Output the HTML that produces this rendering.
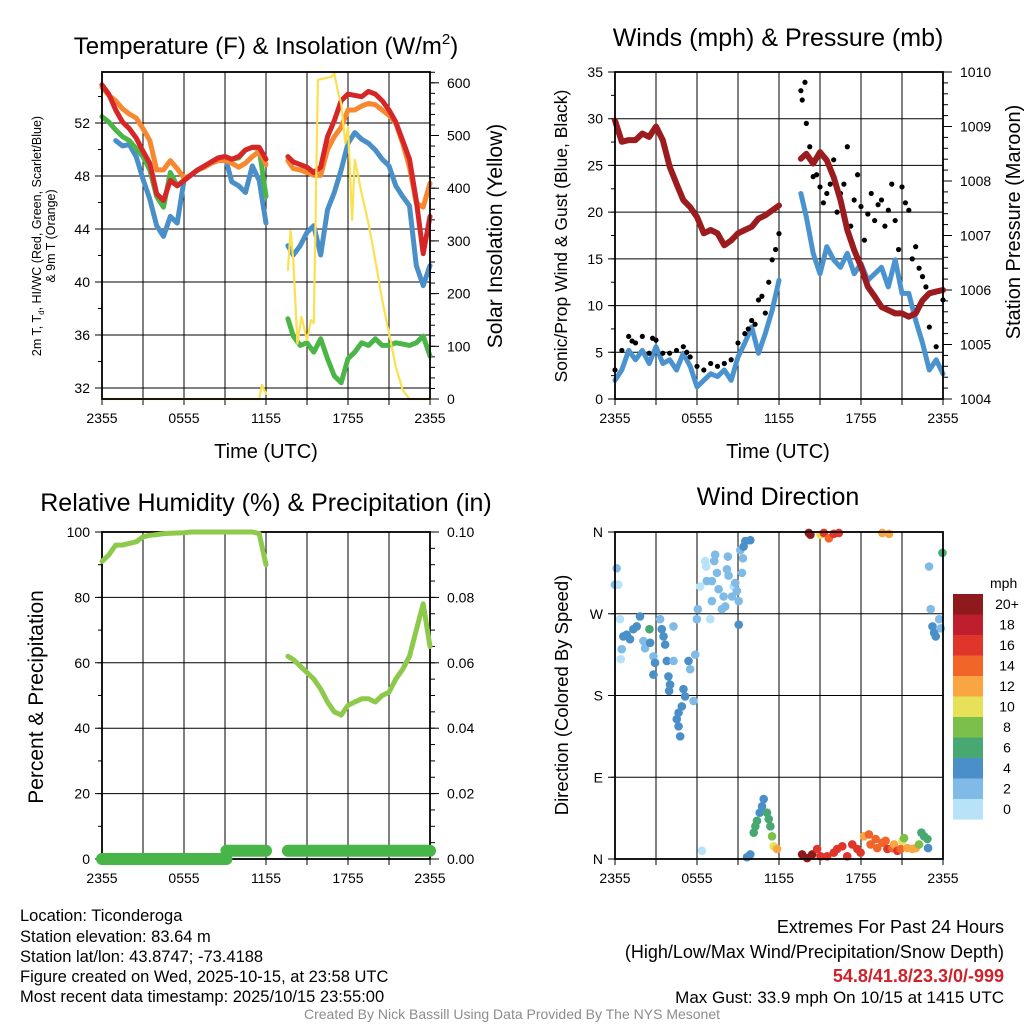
<!DOCTYPE html>
<html><head><meta charset="utf-8">
<style>
html,body{margin:0;padding:0;background:#fff;}
svg{display:block;font-family:"Liberation Sans",Arial,sans-serif;}
</style></head>
<body>
<svg id="fig" width="1024" height="1024" viewBox="0 0 1024 1024">
<rect x="0" y="0" width="1024" height="1024" fill="#fff"/>
<g id="p1"></g>
<g id="p2"></g>
<g id="p3"></g>
<g id="p4"></g>

<text x="266" y="54" font-size="24" text-anchor="middle">Temperature (F) &amp; Insolation (W/m<tspan font-size="15" dy="-10">2</tspan><tspan dy="10">)</tspan></text>
<text x="778" y="46" font-size="25" text-anchor="middle">Winds (mph) &amp; Pressure (mb)</text>
<text x="266" y="511" font-size="25" text-anchor="middle">Relative Humidity (%) &amp; Precipitation (in)</text>
<text x="778" y="505" font-size="25" text-anchor="middle">Wind Direction</text>

<text x="266" y="458" font-size="20" text-anchor="middle">Time (UTC)</text>
<text x="778" y="458" font-size="20" text-anchor="middle">Time (UTC)</text>

<g transform="translate(41,236) rotate(-90)">
<text x="0" y="0" font-size="12.5" text-anchor="middle">2m T, T<tspan font-size="8" dy="3">d</tspan><tspan dy="-3">, HI/WC (Red, Green, Scarlet/Blue)</tspan></text>
<text x="0" y="14" font-size="12.5" text-anchor="middle">&amp; 9m T (Orange)</text>
</g>
<text transform="translate(502,236) rotate(-90)" font-size="21" text-anchor="middle">Solar Insolation (Yellow)</text>
<text transform="translate(567,236) rotate(-90)" font-size="17.5" text-anchor="middle">Sonic/Prop Wind &amp; Gust (Blue, Black)</text>
<text transform="translate(1020,222) rotate(-90)" font-size="20" text-anchor="middle">Station Pressure (Maroon)</text>
<text transform="translate(43,697) rotate(-90)" font-size="21" text-anchor="middle">Percent &amp; Precipitation</text>
<text transform="translate(568,695) rotate(-90)" font-size="18.5" text-anchor="middle">Direction (Colored By Speed)</text>

<g font-size="16.5">
<text x="20" y="921">Location: Ticonderoga</text>
<text x="20" y="942">Station elevation: 83.64 m</text>
<text x="20" y="962">Station lat/lon: 43.8747; -73.4188</text>
<text x="20" y="982">Figure created on Wed, 2025-10-15, at 23:58 UTC</text>
<text x="20" y="1002">Most recent data timestamp: 2025/10/15 23:55:00</text>
</g>
<g font-size="18" text-anchor="end">
<text x="1004" y="933">Extremes For Past 24 Hours</text>
<text x="1004" y="958">(High/Low/Max Wind/Precipitation/Snow Depth)</text>
<text x="1004" y="982" fill="#cc2229" font-weight="bold">54.8/41.8/23.3/0/-999</text>
<text x="1004" y="1003" font-size="17">Max Gust: 33.9 mph On 10/15 at 1415 UTC</text>
</g>
<text x="512" y="1019" font-size="14" fill="#8c8c8c" text-anchor="middle">Created By Nick Bassill Using Data Provided By The NYS Mesonet</text>
</svg>
<script>
// ---------- data ----------
const hours = [0,0.5,1,1.5,2,2.5,3,3.5,4,4.5,5,5.5,6,6.5,7,7.5,8,8.5,9,9.5,10,10.5,11,11.5,12,null,13.6,14,14.5,15,15.5,16,16.5,17,17.5,18,18.5,19,19.5,20,20.5,21,21.5,22,22.5,23,23.5,24];
const tempRed = [54.8,54.1,52.9,52,51.5,50.8,49.8,48.9,46.6,46.1,47.6,47.2,47.6,48,48.4,48.7,49,49.3,49.4,49.2,49.4,49.9,50.1,50.1,49.2,null,49.4,49,48.8,48.6,48.2,48.6,50.9,52.1,53.6,54.1,54,53.9,54.3,54.1,53.6,52.9,52,50.6,49.2,46.1,42.1,44.9];
const temp9m = [54.6,54,53.6,53,52.6,52.3,51.5,50.6,48.4,48.4,49.1,48.5,47.8,48,48.4,48.6,48.9,49.1,49.1,48.9,48.6,48.9,49.4,49.8,48.8,null,49.1,48.5,48.4,48.2,48,48,49.9,50.9,51.6,52.9,52.9,53.2,53.4,53.3,52.9,52.5,51.9,50.4,48.6,45.9,45.6,47.4];
const dewGreen = [52.4,52,51.4,50.9,50.6,50,49.4,48.4,46.4,45.6,48.2,47.2,47.6,48,48.4,48.6,49,49.3,49.4,49.2,49.3,49.9,50.1,50.0,46.4,null,37.2,35.9,35.2,35.4,34.7,35.7,34.2,32.9,32.4,34.2,34.7,35.4,35.2,35.7,35.2,35.2,35.4,35.3,35.2,35.4,35.9,34.4];
const hiwcBlue = [null,null,50.6,50.2,50.3,49.4,47.7,46.2,44.2,43.4,44.9,44.4,47.6,48,48.4,48.6,49,49.3,49.4,47.5,47.2,46.7,48.7,47.6,44.4,null,42.7,42,42.7,43.7,44.2,42,45.4,46.7,48.4,50.4,51.2,50.7,50.4,49.9,49.2,48.7,47.2,46.4,45.7,41.2,39.7,41.2];
const solarHours = [0,11.5,11.7,12,null,13.6,13.8,14,14.3,14.6,15,15.3,15.5,15.8,16.3,16.8,17,17.3,17.5,17.8,18,18.3,18.5,18.8,19,19.5,20,20.5,21,21.5,22,22.5,24];
const solar = [0,0,27,10,null,245,320,264,105,156,112,150,144,606,609,612,618,580,561,485,517,340,454,416,390,333,264,188,125,61,17,0,0];
const windSpeed = [2,3.1,5.2,4.2,5.2,3.8,5.6,3.8,4.2,3.1,4.9,3.5,1.3,2,2.7,2.4,3.1,2,4.5,6,7.7,4.9,7,9.5,12.7,null,22,19.5,15.6,13.4,16.3,14.9,14.1,15.6,13.4,14.5,12.7,13.4,14.1,12,14.9,11.3,11.3,8.4,6,3.1,4.2,2.7];
const pressure = [1009.11,1008.72,1008.75,1008.75,1008.87,1008.81,1009.0,1008.75,1008.26,1007.95,1007.65,1007.52,1007.34,1007.04,1007.1,1007.04,1006.82,1006.91,1007.04,1007.1,1007.16,1007.31,1007.37,1007.46,1007.55,null,1008.41,1008.5,1008.32,1008.53,1008.38,1008.07,1007.65,1007.1,1006.73,1006.43,1006.06,1005.88,1005.69,1005.63,1005.57,1005.57,1005.51,1005.57,1005.81,1005.94,1005.97,1006.0];
const gust = [3.1,5.2,6.7,6,6.7,4.9,6.3,4.9,4.9,5.2,5.6,4.5,3.5,3.1,3.8,3.5,3.8,4.2,6,7,8.4,10.6,9.2,14.9,17.7,null,33,29.5,23.8,22.7,22,25.6,22,27,21.3,20.6,19.8,19.1,21.3,20.2,19.1,22.7,20.2,16.3,13.1,7.7,5.6,10.6];
const gustHours2 = [13.7,13.9,14.25,14.75,15.25,15.75,16.25,16.75,17.25,17.75,18.25,18.75,19.25,19.75,20.25,20.75,21.25,21.75,22.25,22.75,1.25,2.75,5.25,9.75,10.25,10.75,11.25,11.75];
const gust2 = [32,33.9,27,24,21,23,20,23,18.5,24,17,22,20.8,18.5,23,16,21,15,14,12,6.2,6.5,5,7.5,8,11,12.5,16];
const rh = [91,93,96,96,96.5,97,98.5,99,99.2,99.5,99.6,99.7,99.8,100,100,100,100,100,100,100,100,100,100,99.5,90,null,62,61,59,57,55,52,48,45,44,47,48,49,49,48,50,51,55,58,62,70,78,65];
const precipHours = [0,9.1,null,9.1,12,null,13.6,24];
const precip = [0,0,null,0.0025,0.0025,null,0.0025,0.0025];
const wdHours = [0.12,0,0.24,0.37,1.83,1.59,1.34,0.86,0.61,1.1,0.49,0.42,2.52,2.08,2.2,2.57,2.81,2.93,2.81,3.3,3.42,3.55,3.67,3.79,4.28,3.91,4.03,3.96,4.28,5.01,5.13,4.89,4.65,4.52,4.65,4.77,5.38,5.5,5.87,5.75,5.99,6.06,6.23,6.6,6.67,6.72,7.09,7.09,6.97,7.33,7.26,7.46,7.58,7.82,7.95,8.07,8.19,8.26,8.31,8.56,8.68,8.8,8.92,9.05,9.05,9.17,9.29,9.36,9.41,9.54,9.9,6.36,9.66,9.9,10.15,10.27,10.39,10.59,10.76,10.88,11.12,11.25,11.37,11.49,11.61,11.86,14.18,14.3,15.04,15.28,15.65,16.01,16.38,19.56,20.05,13.69,14.06,14.43,14.79,15.04,15.53,16.01,16.26,16.63,16.99,17.36,17.73,17.97,18.22,18.58,18.7,19.07,19.19,19.56,19.8,19.93,20.29,20.42,20.66,20.9,21.03,21.15,21.39,21.76,22.0,22.25,22.42,22.62,22.86,22.91,22.98,23.1,23.23,23.35,23.47,23.72,23.84,23.96];
const wdDir = [320,302,302,264,267,256,253,247,245,242,231,220,253,240,232,238,223,216,203,264,253,245,236,218,256,201,192,185,218,187,179,168,161,154,146,135,218,209,225,174,264,275,300,328,322,306,306,284,264,335,328,315,297,275,289,278,319,333,312,289,300,304,295,284,258,340,315,331,344,350,351,9,2,5,29,36,42,51,58,66,51,44,36,25,14,11,359,357,357,359,353,358,359,359,358,5,1,5,11,3,3,7,11,14,3,16,11,7,25,27,16,22,12,18,20,11,12,16,9,11,20,23,12,11,12,16,29,25,22,12,322,275,256,249,245,264,254,337];
const wdSpeed = [3,3,1,1,5,5,5,5,5,5,3,1,7,3,3,5,3,5,5,3,5,5,5,5,3,5,5,5,3,5,5,5,5,5,5,5,5,3,3,3,3,3,1,1,1,3,3,3,1,3,3,3,3,3,3,3,3,3,3,3,1,3,3,3,5,3,3,3,5,5,5,1,5,5,7,7,7,5,5,5,7,7,7,9,11,13,21,21,11,17,15,17,17,13,13,21,21,21,17,17,17,17,17,17,17,17,17,17,13,15,15,15,15,15,15,17,15,13,17,15,11,9,13,13,13,9,7,7,7,5,3,3,5,5,5,3,3,7];
const timeTicks = ["2355","0555","1155","1755","2355"];
const legendLabels = ["20+","18","16","14","12","10","8","6","4","2","0"];
const legendColors = ["#8f1a1d","#be1e2d","#e0352b","#f26529","#f9a541","#e6e159","#7cc04b","#48a872","#4a8fc7","#7fbbe6","#b8e2f7"];

// ---------- helpers ----------
const NS = "http://www.w3.org/2000/svg";
function mk(parent, tag, attrs){
  const e = document.createElementNS(NS, tag);
  for (const k in attrs) e.setAttribute(k, attrs[k]);
  parent.appendChild(e);
  return e;
}
const X0L = 102, X0R = 615, PW = 328;
function xScale(x0){ return t => x0 + t * PW / 24; }
function linScale(v0, v1, y0, y1){ return v => y0 + (v - v0) * (y1 - y0) / (v1 - v0); }

function drawLine(g, hs, vs, xf, yf, color, width, name){
  let d = "", pen = false;
  for (let i = 0; i < vs.length; i++){
    if (hs[i] === null || vs[i] === null){ pen = false; continue; }
    d += (pen ? "L" : "M") + xf(hs[i]).toFixed(1) + "," + yf(vs[i]).toFixed(1);
    pen = true;
  }
  const p = mk(g, "path", {d: d, fill: "none", stroke: color, "stroke-width": width, "stroke-linejoin": "round", "stroke-linecap": "round"});
  
  
  return p;
}

function frame(g, x0, y0, y1, opts){
  const x1 = x0 + PW;
  const xf = xScale(x0);
  for (let h = 3; h < 24; h += 3){
    const l = mk(g, "line", {x1: xf(h), y1: y0, x2: xf(h), y2: y1, stroke: "#000", "stroke-width": 1});
    
    
  }
  for (let h = 0; h <= 24; h += 3){
    mk(g, "line", {x1: xf(h), y1: y1, x2: xf(h), y2: y1 + 6, stroke: "#000", "stroke-width": 1});
  }
  timeTicks.forEach((lab, i) => {
    const t = mk(g, "text", {x: xf(i * 6), y: y1 + 24, "font-size": 14, "text-anchor": "middle"});
    t.textContent = lab;
    
    
  });
  const ly = linScale(opts.lmin, opts.lmax, y1, y0);
  for (let v = opts.lminor0; v <= opts.lmax + 1e-9; v += opts.lminor){
    mk(g, "line", {x1: x0 - 4, y1: ly(v), x2: x0, y2: ly(v), stroke: "#000", "stroke-width": 1});
  }
  opts.lticks.forEach((v, i) => {
    const y = ly(v);
    const gl = mk(g, "line", {x1: x0 - 7, y1: y, x2: x1, y2: y, stroke: "#000", "stroke-width": 1});
    
    
    const t = mk(g, "text", {x: x0 - 12, y: y + 5, "font-size": 14, "text-anchor": "end"});
    t.textContent = opts.llabels[i];
    
    
  });
  if (opts.rticks){
    const ry = linScale(opts.rmin, opts.rmax, y1, y0);
    for (let v = opts.rmin; v <= opts.rmax + 1e-9; v += opts.rminor){
      mk(g, "line", {x1: x1, y1: ry(v), x2: x1 + 5, y2: ry(v), stroke: "#000", "stroke-width": 1});
    }
    opts.rticks.forEach((v, i) => {
      const y = ry(v);
      mk(g, "line", {x1: x1, y1: y, x2: x1 + 9, y2: y, stroke: "#000", "stroke-width": 1});
      const t = mk(g, "text", {x: x1 + 17, y: y + 5, "font-size": 14});
      t.textContent = opts.rlabels[i];
      
      
    });
  }
  const r = mk(g, "rect", {x: x0, y: y0, width: PW, height: y1 - y0, fill: "none", stroke: "#000", "stroke-width": 1.8});
  
  
}

// ---------- panel 1: temperature ----------
(function(){
  const g = document.getElementById("p1");
  const y0 = 72, y1 = 399;
  frame(g, X0L, y0, y1, {lmin: 31.17, lmax: 55.85, lticks: [32,36,40,44,48,52], llabels: ["32","36","40","44","48","52"], lminor: 2, lminor0: 32,
    rmin: 0, rmax: 620.5, rticks: [0,100,200,300,400,500,600], rlabels: ["0","100","200","300","400","500","600"], rminor: 20});
  const xf = xScale(X0L);
  const ty = linScale(32, 52, 388, 122);
  const sy = linScale(0, 600, 399, 83);
  const data = document.createElementNS(NS, "g");
  g.insertBefore(data, g.lastChild);
  drawLine(data, hours, hiwcBlue, xf, ty, "#4a8fc8", 5, "hi-wc-line");
  drawLine(data, hours, dewGreen, xf, ty, "#4cb547", 5, "dewpoint-line");
  drawLine(data, hours, temp9m, xf, ty, "#f7882f", 5, "temp-9m-line");
  drawLine(data, hours, tempRed, xf, ty, "#d62628", 5, "temp-2m-line");
  drawLine(data, solarHours, solar, xf, sy, "#fbe04f", 2.2, "solar-line");
})();

// ---------- panel 2: winds ----------
(function(){
  const g = document.getElementById("p2");
  const y0 = 72, y1 = 399;
  frame(g, X0R, y0, y1, {lmin: 0, lmax: 35, lticks: [0,5,10,15,20,25,30,35], llabels: ["0","5","10","15","20","25","30","35"], lminor: 2.5, lminor0: 0,
    rmin: 1004, rmax: 1010, rticks: [1004,1005,1006,1007,1008,1009,1010], rlabels: ["1004","1005","1006","1007","1008","1009","1010"], rminor: 0.2});
  const xf = xScale(X0R);
  const wy = linScale(0, 35, y1, y0);
  const py = linScale(1004, 1010, y1, y0);
  const data = document.createElementNS(NS, "g");
  g.insertBefore(data, g.lastChild);
  drawLine(data, hours, windSpeed, xf, wy, "#4a93cf", 5, "wind-speed-line");
  for (let i = 0; i < gust.length; i++){
    if (gust[i] === null) continue;
    const c = mk(data, "circle", {cx: xf(hours[i]), cy: wy(gust[i]), r: 2.6, fill: "#000"});
    
    
  }
  for (let i = 0; i < gust2.length; i++){
    const c = mk(data, "circle", {cx: xf(gustHours2[i]), cy: wy(gust2[i]), r: 2.6, fill: "#000"});
    
    
  }
  drawLine(data, hours, pressure, xf, py, "#9b1b1e", 6, "pressure-line");
})();

// ---------- panel 3: RH & precip ----------
(function(){
  const g = document.getElementById("p3");
  const y0 = 532, y1 = 859;
  frame(g, X0L, y0, y1, {lmin: 0, lmax: 100, lticks: [0,20,40,60,80,100], llabels: ["0","20","40","60","80","100"], lminor: 10, lminor0: 0,
    rmin: 0, rmax: 0.1, rticks: [0,0.02,0.04,0.06,0.08,0.1], rlabels: ["0.00","0.02","0.04","0.06","0.08","0.10"], rminor: 0.005});
  const xf = xScale(X0L);
  const ry = linScale(0, 100, y1, y0);
  const pry = linScale(0, 0.1, y1, y0);
  const data = document.createElementNS(NS, "g");
  g.appendChild(data);
  drawLine(data, hours, rh, xf, ry, "#8dc94b", 5, "rh-line");
  drawLine(data, precipHours, precip, xf, pry, "#47b548", 12, "precip-line");
})();

// ---------- panel 4: wind direction ----------
(function(){
  const g = document.getElementById("p4");
  const y0 = 532, y1 = 859;
  frame(g, X0R, y0, y1, {lmin: 0, lmax: 360, lticks: [0,90,180,270,360], llabels: ["N","E","S","W","N"], lminor: 90, lminor0: 0});
  const xf = xScale(X0R);
  const dy = linScale(0, 360, y1, y0);
  function color(s){
    const idx = s >= 20 ? 0 : 10 - Math.floor(s / 2);
    return legendColors[Math.max(0, Math.min(10, idx))];
  }
  const data = document.createElementNS(NS, "g");
  g.insertBefore(data, g.lastChild);
  for (let i = 0; i < wdDir.length; i++){
    const c = mk(data, "circle", {cx: xf(wdHours[i]), cy: dy(wdDir[i]), r: 4.3, fill: color(wdSpeed[i])});
    
    
  }
  const lg = mk(g, "g", {});
  
  
  const t0 = mk(lg, "text", {x: 990, y: 588, "font-size": 14});
  t0.textContent = "mph";
  legendLabels.forEach((lab, i) => {
    const y = 594 + i * 20.5;
    const r = mk(lg, "rect", {x: 953, y: y, width: 30, height: 20.6, fill: legendColors[i]});
    
    
    const t = mk(lg, "text", {x: 1007, y: y + 15, "font-size": 14, "text-anchor": "middle"});
    t.textContent = lab;
    
    
  });
})();
</script>
</body></html>
